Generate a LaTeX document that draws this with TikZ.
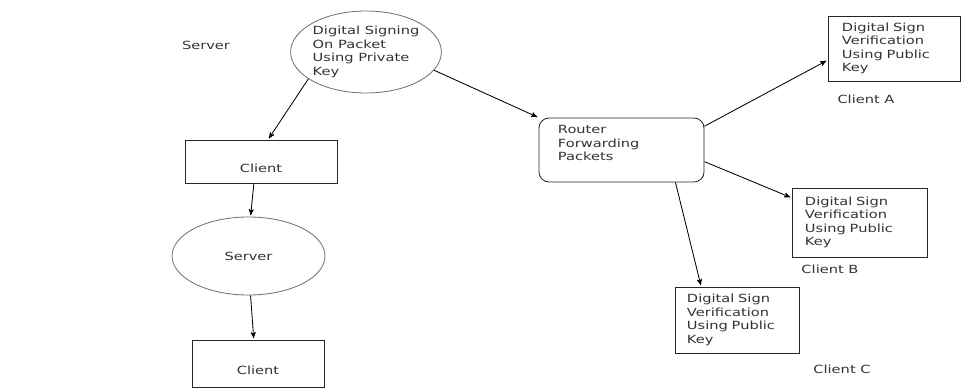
\documentclass[tikz,border=0pt]{standalone}
\usepackage{fontspec}
\newfontfamily\diagfont{DejaVu Sans}[FakeStretch=1.3]
\usetikzlibrary{arrows,shapes.geometric}

\begin{document}
\begin{tikzpicture}[->,>=stealth',shorten >=1pt,semithick,
                    x=0.025cm,y=-0.025cm]
  \tikzstyle{every node}=[font=\diagfont\fontsize{8pt}{9.6pt}\selectfont,text=black!80]
  \tikzstyle{oval}=[ellipse,draw=black!55,inner sep=0pt,align=left]
  \tikzstyle{clientbox}=[rectangle,draw=black!85,inner sep=0pt,text height=15pt,text depth=0pt]
  \tikzstyle{verifybox}=[rectangle,draw=black!85,align=left,inner ysep=0pt]
  \tikzstyle{routerbox}=[rectangle,rounded corners=0.25cm,draw=black!85,align=left,inner ysep=0pt]

  \useasboundingbox (0,0) rectangle (975,388);

  \node                          (srvlbl)  at (206,45)    {Server};
  \node[oval,minimum width=3.6cm,minimum height=2.05cm]
                                 (sign)    at (366,52)    {Digital Signing\\On Packet\\Using Private\\Key};
  \node[clientbox,minimum width=3.8cm,minimum height=1.075cm]
                                 (client1) at (261,161.5) {Client};
  \node[oval,minimum width=3.825cm,minimum height=1.95cm]
                                 (server)  at (248.5,256) {Server};
  \node[clientbox,minimum width=3.3cm,minimum height=1.175cm]
                                 (client2) at (258,363.5) {Client};

  \node[routerbox,text width=3.175cm,inner xsep=0.475cm,minimum height=1.6cm,text depth=29pt]
                                 (router)  at (621.5,150) {Router\\Forwarding\\Packets};

  \node[verifybox,text width=2.6cm,inner xsep=0.35cm,minimum height=1.625cm]
                                 (clientA) at (894,48.5)  {Digital Sign\\Verification\\Using Public\\Key};
  \node[verifybox,text width=2.725cm,inner xsep=0.325cm,minimum height=1.725cm]
                                 (clientB) at (859.5,222.5) {Digital Sign\\Verification\\Using Public\\Key};
  \node[verifybox,text width=2.5cm,inner xsep=0.3cm,minimum height=1.65cm]
                                 (clientC) at (737,320)   {Digital Sign\\Verification\\Using Public\\Key};

  \node                          (lblA)    at (866,99)    {Client A};
  \node                          (lblB)    at (830,269)   {Client B};
  \node                          (lblC)    at (842,369)   {Client C};

  \path (sign.205)    edge (client1.72)
        (client1.252) edge (server.87)
        (server.-87)  edge (client2.100)
        (sign.-15)    edge (router.north west)
        (router.16)   edge (clientA.190)
        (router.-8)   edge (clientB.160)
        (router.-31)  edge (clientC.137);
\end{tikzpicture}
\end{document}
